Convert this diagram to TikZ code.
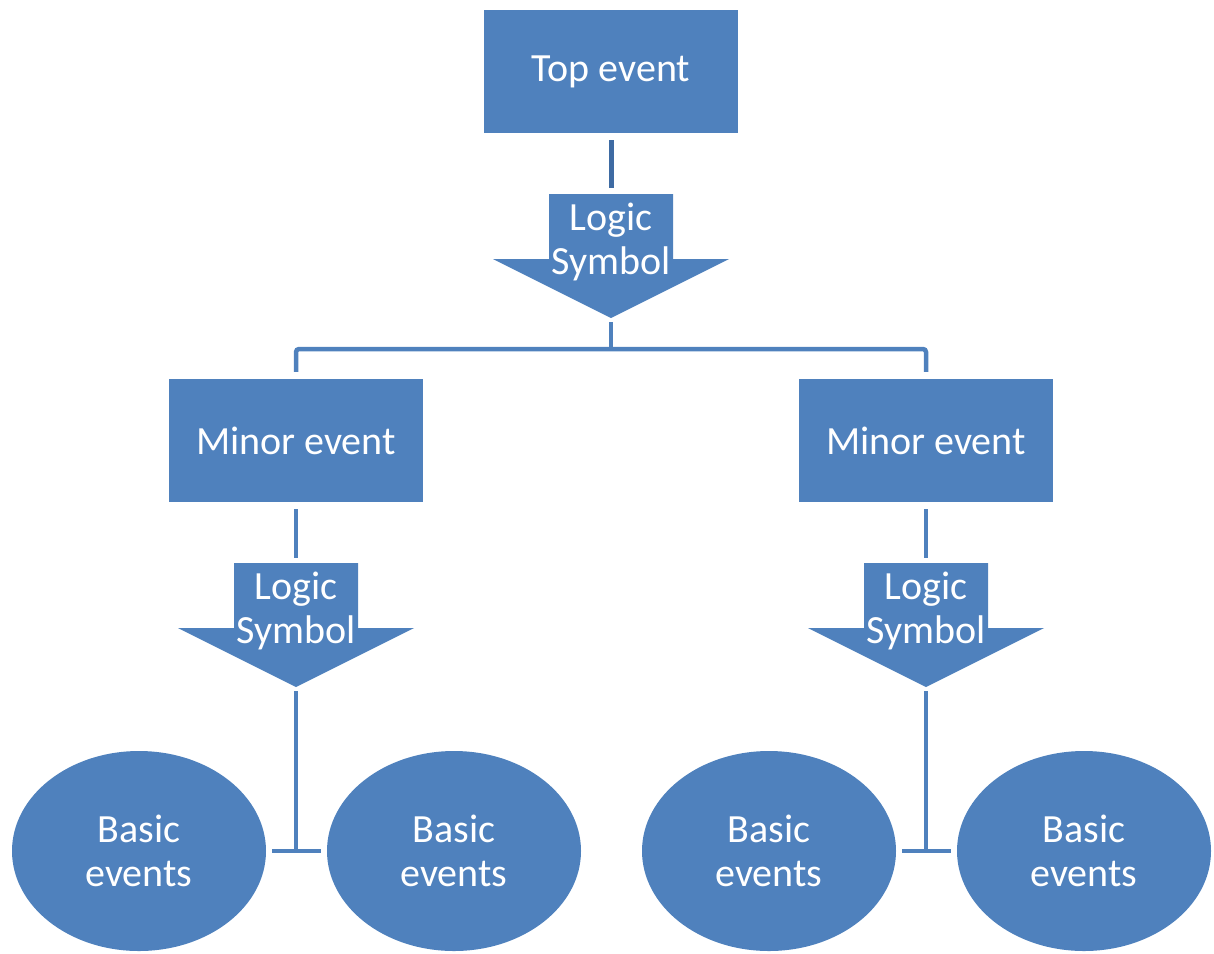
\documentclass[tikz,border=0pt]{standalone}
\usepackage{fontspec}
\setmainfont{Carlito}
\usetikzlibrary{shapes.geometric}
\definecolor{accent}{HTML}{4F81BD}
\definecolor{stub}{HTML}{3E6BA3}

\begin{document}
\begin{tikzpicture}[x=1pt,y=-1pt,
  label font/.style={font=\fontsize{40}{44}\selectfont},
  event/.style={fill=accent, text=white, minimum width=254pt, minimum height=123pt,
    inner sep=0pt, label font},
  basic/.style={ellipse, fill=accent, text=white, minimum width=254pt, minimum height=200pt,
    inner sep=0pt, align=center, label font},
  gatetext/.style={text=white, align=center, inner sep=0pt, label font},
  link/.style={draw=accent, line width=4.5pt},
  pics/gate/.style={code={
    \fill[accent] (-62,0) -- (62,0) -- (62,65) -- (118,65) -- (0,124)
                  -- (-118,65) -- (-62,65) -- cycle;
    \coordinate (-in) at (0,0);
    \coordinate (-out) at (0,124);
    \node[gatetext] (-text) at (0,48) {Logic\\Symbol};
  }},
]
\useasboundingbox (0,0) rectangle (1214,953);

% events
\node[event] (top) at (611,71.5) {\raisebox{-2pt}{Top event}};
\node[event] (m1) at (296,440.5) {Minor event};
\node[event] (m2) at (926,440.5) {Minor event};

% gates
\pic (g1) at (611,194) {gate};
\pic (g2) at (296,563) {gate};
\pic (g3) at (926,563) {gate};

% basic events
\node[basic] (b1) at (139,851) {Basic\\events};
\node[basic] (b2) at (454,851) {Basic\\events};
\node[basic] (b3) at (769,851) {Basic\\events};
\node[basic] (b4) at (1084,851) {Basic\\events};

% junction points
\coordinate (split) at (611,349);
\coordinate (j1) at (296,851);
\coordinate (j2) at (926,851);

% connectors
\draw[link, draw=stub, line width=5pt, shorten <=7pt, shorten >=6pt] (top) -- (g1-in);
\draw[link, shorten <=4pt] (g1-out) -- (split);
\draw[link, rounded corners=3pt, shorten <=7pt, shorten >=7pt] (m1) |- (split) -| (m2);

\draw[link, shorten <=7pt, shorten >=5pt] (m1) -- (g2-in);
\draw[link, shorten <=4pt] (g2-out) -- (j1);
\draw[link, shorten <=6pt, shorten >=6pt] (b1) -- (b2);

\draw[link, shorten <=7pt, shorten >=5pt] (m2) -- (g3-in);
\draw[link, shorten <=4pt] (g3-out) -- (j2);
\draw[link, shorten <=6pt, shorten >=6pt] (b3) -- (b4);
\end{tikzpicture}
\end{document}
